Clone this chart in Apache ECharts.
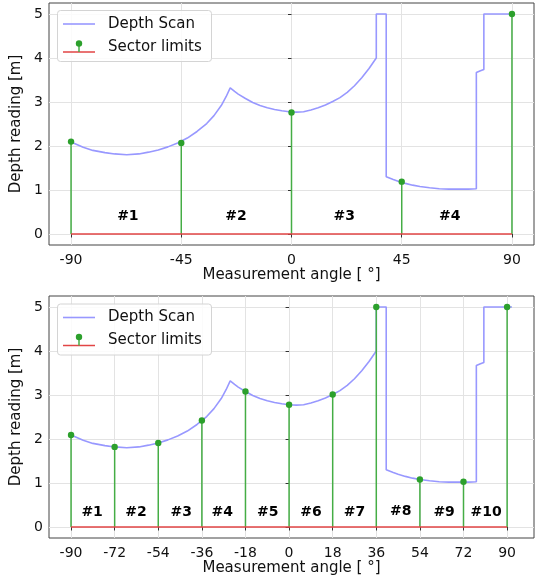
<!DOCTYPE html>
<html>
<head>
<meta charset="utf-8">
<script src="https://cdn.jsdelivr.net/npm/echarts@6/dist/echarts.min.js"></script>
<style>
html,body{margin:0;padding:0;background:#fff;}
#c{width:536px;height:580px;}
</style>
</head>
<body>
<div id="c"></div>
<script>
// Depth scan (angles as in the lower panel, degrees) and depth readings (m)
const scanAngles = [-90,-85,-81,-76,-72,-67,-62,-58,-54,-50,-46,-42,-38,-34,-31,-28,-26,-24.3,-22.5,-21,-18,-15,-12,-9,-6,-3,0,3,6,9,12,15,18,21,24,27,30,33,35,36,36,40.1,40.1,43,45,48,51,54,58,62,66,70,74,77.3,77.3,79,80.4,80.4,92];
const scanDepths = [2.09,1.97,1.90,1.85,1.82,1.80,1.82,1.86,1.91,1.98,2.07,2.18,2.33,2.51,2.69,2.92,3.12,3.32,3.24,3.18,3.08,2.99,2.92,2.87,2.83,2.80,2.78,2.77,2.78,2.82,2.87,2.93,3.01,3.10,3.22,3.37,3.55,3.76,3.92,4.00,5.00,5.00,1.30,1.24,1.20,1.15,1.11,1.08,1.05,1.03,1.02,1.02,1.02,1.03,3.67,3.71,3.74,5.00,5.00];
// upper panel spreads the same 182° scan over -90..90
const topScanSpan = 180 / 182;

// upper panel: 4 sectors
const topLimitAngles = [-90,-45,0,45,90];
const topLimitDepths = [2.10,2.07,2.76,1.19,5.00];
const topSectorNames = ['#1','#2','#3','#4'];
const topSectorAngles = [-66.8,-22.7,21.5,64.6];
const topSectorHeights = [0.41,0.41,0.41,0.41];
const topTicks = [-90,-45,0,45,90];

// lower panel: 10 sectors
const botLimitAngles = [-90,-72,-54,-36,-18,0,18,36,54,72,90];
const botLimitDepths = [2.09,1.82,1.91,2.42,3.08,2.78,3.01,5.00,1.08,1.03,5.00];
const botSectorNames = ['#1','#2','#3','#4','#5','#6','#7','#8','#9','#10'];
const botSectorAngles = [-81.3,-63.2,-44.5,-27.6,-8.8,9.0,27.0,46.1,64.0,81.3];
const botSectorHeights = [0.33,0.33,0.33,0.33,0.33,0.33,0.33,0.36,0.33,0.33];
const botTicks = [-90,-72,-54,-36,-18,0,18,36,54,72,90];

const yTicks = [0,1,2,3,4,5];

const FONT = 'DejaVu Sans';
const BLUE = '#9898ff';
const GREEN = '#2ca02c';
const STEM = '#45ad45';
const RED = '#e24545';

const topScan = scanAngles.map((a, i) => [-90 + (a + 90) * topScanSpan, scanDepths[i]]);
const botScan = scanAngles.map((a, i) => [a, scanDepths[i]]);

function zipPairs(xs, ys) { return xs.map((x, i) => [x, ys[i]]); }

function xAxisCfg(idx, min, max, ticks) {
  return {
    type: 'value', gridIndex: idx, min: min, max: max,
    name: 'Measurement angle [ °]', nameLocation: 'middle', nameGap: 23,
    nameTextStyle: {fontFamily: FONT, fontSize: 15, color: '#111'},
    axisLine: {show: false},
    axisTick: {show: true, length: 3.5, lineStyle: {color: '#333'}, customValues: ticks},
    axisLabel: {fontFamily: FONT, fontSize: 14, color: '#111', margin: 8, customValues: ticks,
      formatter: v => String(v)},
    splitLine: {show: true, lineStyle: {color: '#e3e3e3', width: 1}}
  };
}
function yAxisCfg(idx) {
  return {
    type: 'value', gridIndex: idx, min: -0.25, max: 5.25,
    name: 'Depth reading [m]', nameLocation: 'middle', nameGap: 18,
    nameTextStyle: {fontFamily: FONT, fontSize: 15, color: '#111'},
    axisLine: {show: false},
    axisTick: {show: true, length: 3.5, lineStyle: {color: '#333'}, customValues: yTicks},
    axisLabel: {fontFamily: FONT, fontSize: 14, color: '#111', margin: 6, customValues: yTicks},
    splitLine: {show: true, lineStyle: {color: '#e3e3e3', width: 1}}
  };
}

function stemSeries(idx, pairs) {
  return {
    type: 'custom', xAxisIndex: idx, yAxisIndex: idx, z: 4,
    data: pairs,
    renderItem: function (params, api) {
      const base = api.coord([api.value(0), 0]);
      const top = api.coord([api.value(0), api.value(1)]);
      return {type: 'group', children: [
        {type: 'line', shape: {x1: base[0], y1: base[1], x2: top[0], y2: top[1]},
          style: {stroke: STEM, lineWidth: 1.5}},
        {type: 'circle', shape: {cx: top[0], cy: top[1], r: 3.2}, style: {fill: GREEN}}
      ]};
    }
  };
}
function baseSeries(idx, xs) {
  return {
    type: 'line', xAxisIndex: idx, yAxisIndex: idx, z: 5, symbol: 'none', silent: true,
    data: [[xs[0], 0], [xs[xs.length - 1], 0]],
    lineStyle: {color: RED, width: 1.5}
  };
}
function scanSeries(idx, pts) {
  return {
    type: 'line', xAxisIndex: idx, yAxisIndex: idx, z: 3, symbol: 'none', silent: true,
    data: pts, lineStyle: {color: BLUE, width: 1.6}
  };
}
function labelSeries(idx, names, xs, ys) {
  return {
    type: 'custom', xAxisIndex: idx, yAxisIndex: idx, z: 6,
    data: xs.map((x, i) => [x, ys[i], i]),
    renderItem: function (params, api) {
      const p = api.coord([api.value(0), api.value(1)]);
      return {type: 'text', style: {x: p[0], y: p[1], text: names[api.value(2)],
        font: 'bold 14px "DejaVu Sans"', fill: '#000', align: 'center', verticalAlign: 'middle'}};
    }
  };
}

function legend(offsetY) {
  return [
    {type: 'rect', z: 100, shape: {x: 57.5, y: 10.5 + offsetY, width: 154, height: 51, r: 3},
      style: {fill: 'rgba(255,255,255,0.85)', stroke: '#d4d4d4', lineWidth: 1}},
    {type: 'line', z: 101, shape: {x1: 63, y1: 24 + offsetY, x2: 95, y2: 24 + offsetY},
      style: {stroke: BLUE, lineWidth: 1.6}},
    {type: 'text', z: 101, x: 108, y: 24 + offsetY, style: {text: 'Depth Scan',
      font: '15px "DejaVu Sans"', fill: '#111', verticalAlign: 'middle'}},
    {type: 'line', z: 101, shape: {x1: 63, y1: 52 + offsetY, x2: 95, y2: 52 + offsetY},
      style: {stroke: RED, lineWidth: 1.5}},
    {type: 'line', z: 101, shape: {x1: 79, y1: 52 + offsetY, x2: 79, y2: 44 + offsetY},
      style: {stroke: STEM, lineWidth: 1.5}},
    {type: 'circle', z: 102, shape: {cx: 79, cy: 43.5 + offsetY, r: 3.2}, style: {fill: GREEN}},
    {type: 'text', z: 101, x: 108, y: 47 + offsetY, style: {text: 'Sector limits',
      font: '15px "DejaVu Sans"', fill: '#111', verticalAlign: 'middle'}}
  ];
}

const chart = echarts.init(document.getElementById('c'), null, {renderer: 'canvas'});
chart.setOption({
  animation: false,
  backgroundColor: '#fff',
  textStyle: {fontFamily: FONT},
  grid: [
    {left: 49, top: 3, width: 485, height: 242, show: true, borderColor: '#444', borderWidth: 1, backgroundColor: 'transparent'},
    {left: 49, top: 296, width: 485, height: 242, show: true, borderColor: '#444', borderWidth: 1, backgroundColor: 'transparent'}
  ],
  xAxis: [xAxisCfg(0, -99, 99, topTicks), xAxisCfg(1, -99.1, 101.1, botTicks)],
  yAxis: [yAxisCfg(0), yAxisCfg(1)],
  series: [
    scanSeries(0, topScan),
    stemSeries(0, zipPairs(topLimitAngles, topLimitDepths)),
    baseSeries(0, topLimitAngles),
    labelSeries(0, topSectorNames, topSectorAngles, topSectorHeights),
    scanSeries(1, botScan),
    stemSeries(1, zipPairs(botLimitAngles, botLimitDepths)),
    baseSeries(1, botLimitAngles),
    labelSeries(1, botSectorNames, botSectorAngles, botSectorHeights)
  ],
  graphic: legend(0).concat(legend(293.5))
});
</script>
</body>
</html>
